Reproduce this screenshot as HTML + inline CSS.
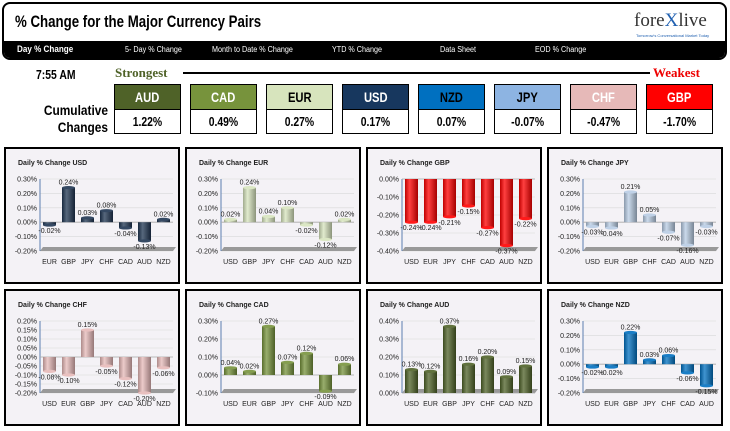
<!DOCTYPE html>
<html><head><meta charset="utf-8">
<style>
body{margin:0;width:730px;height:431px;background:#fff;font-family:"Liberation Sans",sans-serif;position:relative;overflow:hidden}
.abs{position:absolute}
.hdr{left:2px;top:2px;width:721px;height:54px;border:2px solid #000;border-radius:8px;overflow:hidden;background:#fff}
.nav{left:0;top:37px;width:721px;height:17px;background:#000}
.nav span{position:absolute;top:4px;color:#fff;font-size:8px;transform:scaleX(0.9);transform-origin:left}
.box{width:65px;height:48px;border:1px solid #000}
.box .t{height:24px;line-height:24px;text-align:center;font-weight:bold;font-size:14px;border-bottom:1px solid #000}
.box .v{height:23px;line-height:23px;text-align:center;font-weight:bold;font-size:13px;background:#fff}
.box span{display:inline-block;transform:scaleX(0.8)}
</style></head><body>
<div class="abs hdr">
  <div class="abs" style="left:11px;top:8px;font-size:17px;font-weight:bold;transform:scaleX(0.78);transform-origin:left;white-space:nowrap">% Change for the Major Currency Pairs</div>
  <div class="abs" style="left:630px;top:6px;font-size:19px;font-family:'Liberation Serif',serif;color:#333">fore<span style="color:#2060b0">X</span>live</div>
  <div class="abs" style="left:632px;top:29px;font-size:4px;color:#2060b0">Tomorrow's Conversational Market Today</div>
  <div class="abs nav">
    <span style="left:13px;font-weight:bold;font-size:9px;top:3px">Day % Change</span>
    <span style="left:121px">5- Day % Change</span>
    <span style="left:208px">Month to Date % Change</span>
    <span style="left:328px">YTD % Change</span>
    <span style="left:436px">Data Sheet</span>
    <span style="left:531px">EOD % Change</span>
  </div>
</div>
<div class="abs" style="left:36px;top:67px;font-size:13px;font-weight:bold;transform:scaleX(0.8);transform-origin:left">7:55 AM</div>
<div class="abs" style="left:115px;top:65px;font-size:13px;font-weight:bold;color:#4f6228;font-family:'Liberation Serif',serif">Strongest</div>
<div class="abs" style="left:183px;top:72px;width:467px;height:2px;background:#000"></div>
<div class="abs" style="left:653px;top:65px;font-size:13px;font-weight:bold;color:#e00;font-family:'Liberation Serif',serif">Weakest</div>
<div class="abs" style="left:20px;top:102px;font-size:14px;font-weight:bold;text-align:right;width:88px;line-height:17px;transform:scaleX(0.85);transform-origin:right">Cumulative Changes</div>
<div id="boxes"></div>
<div id="charts"></div>
<script>
const rankNames=["AUD","CAD","EUR","USD","NZD","JPY","CHF","GBP"];
const rankValues=["1.22%","0.49%","0.27%","0.17%","0.07%","-0.07%","-0.47%","-1.70%"];
const rankColors=["#4f6228","#77933c","#d7e4bd","#17375e","#0070c0","#8db4e2","#e6b9b8","#ff0000"];
const rankText=["#fff","#fff","#000","#fff","#000","#000","#fff","#fff"];
const bx=document.getElementById('boxes');
rankNames.forEach((n,i)=>{
  const d=document.createElement('div');
  d.className='abs box';d.style.left=(114+i*76)+'px';d.style.top='84px';
  
  
  d.innerHTML='<div class="t" style="background:'+rankColors[i]+';color:'+rankText[i]+'"><span>'+n+'</span></div><div class="v"><span>'+rankValues[i]+'</span></div>';
  bx.appendChild(d);
});

const chartTitles=["USD","EUR","GBP","JPY","CHF","CAD","AUD","NZD"];
const chartCats=[
 ["EUR","GBP","JPY","CHF","CAD","AUD","NZD"],
 ["USD","GBP","JPY","CHF","CAD","AUD","NZD"],
 ["USD","EUR","JPY","CHF","CAD","AUD","NZD"],
 ["USD","EUR","GBP","CHF","CAD","AUD","NZD"],
 ["USD","EUR","GBP","JPY","CAD","AUD","NZD"],
 ["USD","EUR","GBP","JPY","CHF","AUD","NZD"],
 ["USD","EUR","GBP","JPY","CHF","CAD","NZD"],
 ["USD","EUR","GBP","JPY","CHF","CAD","AUD"]];
const chartValues=[
 [-0.02,0.24,0.03,0.08,-0.04,-0.13,0.02],
 [0.02,0.24,0.04,0.10,-0.02,-0.12,0.02],
 [-0.24,-0.24,-0.21,-0.15,-0.27,-0.37,-0.22],
 [-0.03,-0.04,0.21,0.05,-0.07,-0.16,-0.03],
 [-0.08,-0.10,0.15,-0.05,-0.12,-0.20,-0.06],
 [0.04,0.02,0.27,0.07,0.12,-0.09,0.06],
 [0.13,0.12,0.37,0.16,0.20,0.09,0.15],
 [-0.02,-0.02,0.22,0.03,0.06,-0.06,-0.15]];
const axisMin=[-0.2,-0.2,-0.4,-0.2,-0.2,-0.1,0,-0.2];
const axisMax=[0.3,0.3,0,0.3,0.2,0.3,0.4,0.3];
const axisStep=[0.1,0.1,0.1,0.1,0.05,0.1,0.1,0.1];
const barColors=["#1f3552","#d7e4bd","#ff0000","#b8cce4","#e6b9b8","#77933c","#4f6228","#0070c0"];

const NS="http://www.w3.org/2000/svg";
const host=document.getElementById('charts');
function el(t,a,p){const e=document.createElementNS(NS,t);for(const k in a)e.setAttribute(k,a[k]);p.appendChild(e);return e;}
function shade(hex,f){let n=parseInt(hex.slice(1),16);let r=n>>16,g=(n>>8)&255,b=n&255;
 const m=c=>Math.max(0,Math.min(255,Math.round(f>0?c+(255-c)*f:c*(1+f))));return 'rgb('+m(r)+','+m(g)+','+m(b)+')';}
chartTitles.forEach((ttl,ci)=>{
  const px=[4,185,366,547][ci%4], py=[147,289][Math.floor(ci/4)];
  const W=176,H=137;
  const svg=document.createElementNS(NS,'svg');
  svg.setAttribute('width',W);svg.setAttribute('height',H);
  svg.style.position='absolute';svg.style.left=px+'px';svg.style.top=py+'px';
  
  
  host.appendChild(svg);
  const defs=el('defs',{},svg);
  const g=el('linearGradient',{id:'g'+ci,x1:0,x2:1,y1:0,y2:0},defs);
  el('stop',{offset:'0','stop-color':shade(barColors[ci],-0.25)},g);
  el('stop',{offset:'0.35','stop-color':shade(barColors[ci],0.25)},g);
  el('stop',{offset:'1','stop-color':shade(barColors[ci],-0.35)},g);
  const bg=el('rect',{x:1,y:1,width:W-2,height:H-2,fill:'#f4f2f6',stroke:'#000','stroke-width':2},svg);
  
  const t=el('text',{x:14,y:18,'font-size':7,'font-weight':'bold',fill:'#222'},svg);
  t.textContent='Daily % Change '+ttl;
  
  const L=36,R=169,T=32,B=104;
  const mn=axisMin[ci],mx=axisMax[ci];
  const y=v=>T+(mx-v)/(mx-mn)*(B-T);
  const cats=chartCats[ci],vals=chartValues[ci];
  const bw=(R-L)/cats.length;
  const x=i=>L+bw*(i+0.5);
  const nt=Math.round((mx-mn)/axisStep[ci]);
  for(let k=0;k<=nt;k++){
    const v=mn+k*axisStep[ci];
    el('line',{x1:L,x2:R,y1:y(v),y2:y(v),stroke:'#d8d8d8','stroke-width':0.6},svg);
    const tl=el('text',{x:L-3,y:y(v)+2.5,'font-size':7,'text-anchor':'end',fill:'#222'},svg);
    tl.textContent=(v<0?'-':'')+Math.abs(v).toFixed(2)+'%';
    
  }
  el('polygon',{points:`${L},${B} ${R},${B} ${R+3},${B-4} ${L+3},${B-4}`,fill:'#999'},svg);
  el('line',{x1:L,x2:L,y1:T,y2:B,stroke:'#5b7fb0','stroke-width':1},svg);
  el('line',{x1:L,x2:R,y1:y(0),y2:y(0),stroke:'#aaa','stroke-width':0.8},svg);
  vals.forEach((v,i)=>{
    const cx=x(i),w=13,y0=y(0),y1=y(v);
    const top=Math.min(y0,y1),h=Math.max(1,Math.abs(y1-y0));
    const r=el('rect',{x:cx-w/2,y:top,width:w,height:h,fill:'url(#g'+ci+')'},svg);
    
    el('ellipse',{cx:cx,cy:y1,rx:w/2,ry:1.6,fill:shade(barColors[ci],0.1)},svg);
    const lb=el('text',{x:cx,y:v>=0?y1-3:y1+8,'font-size':7,'text-anchor':'middle',fill:'#222'},svg);
    lb.textContent=v.toFixed(2)+'%';
    
    const cl=el('text',{x:cx,y:B+13,'font-size':7,'text-anchor':'middle',fill:'#222'},svg);
    cl.textContent=cats[i];
    
  });
});
</script>
</body></html>
